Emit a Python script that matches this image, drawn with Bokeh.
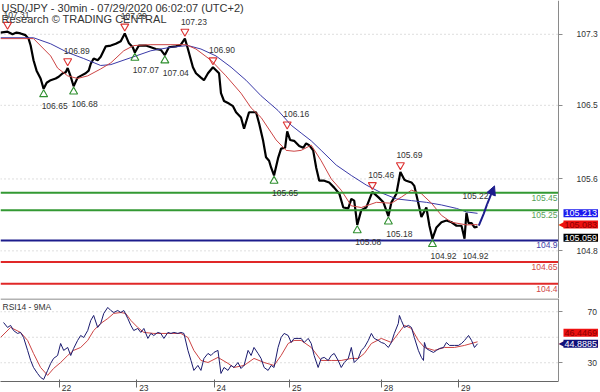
from bokeh.plotting import figure
from bokeh.layouts import column
from bokeh.models import (Range1d, FixedTicker, PrintfTickFormatter, Label, LabelSet,
                          Arrow, NormalHead, ColumnDataSource)
from bokeh.core.properties import value
from bokeh.embed import file_html
from bokeh.resources import INLINE

FONT = "Liberation Sans"

# ---------------- data (x = 30-minute bar index) ----------------
day_ticks = [36.7, 85.0, 133.3, 180.4, 237.5, 285.8]
day_labels = ["22", "23", "24", "25", "28", "29"]

price_t = [0, 4.4, 7.5, 10.0, 12.5, 15.6, 17.5, 18.8, 20.6, 22.5, 25.0, 26.9, 28.8, 31.3, 34.4, 36.3,
           38.8, 40.6, 41.9, 43.8, 45.6, 48.1, 50.0, 53.1, 55.0, 56.3, 58.1, 60.6, 62.5, 65.6, 68.8,
           71.9, 75.0, 77.5, 80.0, 82.5, 83.8, 86.3, 90.6, 93.8, 96.9, 100.0, 102.5, 105.0, 109.4,
           112.5, 115.0, 116.9, 120.0, 121.9, 125.0, 126.9, 129.4, 132.5, 136.3, 137.5, 139.4, 142.5,
           145.0, 146.9, 150.0, 151.9, 155.0, 159.4, 161.3, 163.8, 165.6, 167.5, 168.8, 170.6, 173.1,
           175.0, 177.5, 178.8, 180.6, 183.1, 186.3, 188.8, 190.6, 192.5, 195.0, 196.9, 198.8, 201.9,
           205.0, 208.1, 211.3, 213.8, 216.9, 218.8, 220.6, 222.5, 225.0, 228.1, 231.9, 235.6, 238.8,
           241.9, 243.8, 246.9, 249.4, 251.9, 253.1, 256.3, 258.1, 260.6, 262.5, 265.6, 267.5, 269.4,
           271.9, 275.0, 278.1, 281.3, 284.4, 287.5, 289.4, 290.6, 291.9, 293.8, 295.6, 297.5]
price_p = [107.30, 107.31, 107.28, 107.30, 107.29, 107.27, 107.23, 107.15, 106.98, 106.86, 106.77,
           106.65, 106.72, 106.75, 106.77, 106.79, 106.83, 106.84, 106.89, 106.79, 106.68, 106.78,
           106.80, 106.83, 106.86, 106.94, 107.00, 106.98, 107.02, 107.14, 107.15, 107.17, 107.20,
           107.29, 107.18, 107.13, 107.07, 107.15, 107.15, 107.13, 107.11, 107.10, 107.04, 107.13,
           107.14, 107.16, 107.23, 107.11, 106.90, 106.83, 106.78, 106.75, 106.83, 106.90, 106.83,
           106.60, 106.51, 106.48, 106.45, 106.38, 106.32, 106.19, 106.38, 106.38, 106.25, 106.05,
           105.86, 105.82, 105.74, 105.65, 105.85, 105.96, 105.97, 106.16, 106.06, 106.05, 105.99,
           105.97, 106.02, 106.00, 105.94, 105.74, 105.59, 105.59, 105.57, 105.51, 105.44, 105.28,
           105.27, 105.38, 105.36, 105.08, 105.25, 105.28, 105.46, 105.40, 105.34, 105.18, 105.34,
           105.44, 105.69, 105.60, 105.59, 105.57, 105.53, 105.33, 105.17, 105.28, 105.07, 104.92,
           105.05, 105.11, 105.13, 105.11, 105.07, 105.07, 104.92, 105.22, 105.10, 105.10, 105.05,
           105.059]

ma_red_t = [0, 20.6, 31.3, 35.6, 41.9, 48.1, 54.4, 62.5, 68.8, 76.9, 83.1, 93.8, 106.3, 115.6, 121.9,
            131.3, 140.6, 150.0, 156.3, 162.5, 171.9, 178.1, 183.1, 187.5, 193.8, 200.0, 206.3, 212.5,
            218.8, 225.0, 234.4, 243.8, 250.0, 256.3, 262.5, 268.8, 275.0, 281.3, 290.6, 297.5]
ma_red_p = [107.23, 107.23, 107.03, 106.89, 106.80, 106.77, 106.80, 106.88, 106.95, 107.09, 107.15,
            107.16, 107.16, 107.16, 107.11, 106.98, 106.80, 106.60, 106.43, 106.32, 106.06, 105.94,
            105.93, 105.94, 106.00, 105.82, 105.61, 105.48, 105.30, 105.28, 105.34, 105.33, 105.40,
            105.48, 105.44, 105.33, 105.19, 105.11, 105.08, 105.083]

ma_blue_t = [0, 20.6, 31.3, 41.9, 51.9, 62.5, 68.8, 81.3, 93.8, 106.3, 116.9, 125.0, 134.4, 143.8,
             153.1, 162.5, 173.1, 181.3, 187.5, 193.8, 200.0, 209.4, 218.8, 228.1, 237.5, 246.9,
             256.3, 265.6, 275.0, 284.4, 290.6, 297.5]
ma_blue_p = [107.24, 107.24, 107.17, 107.07, 107.00, 106.92, 106.93, 107.01, 107.09, 107.13, 107.15,
             107.11, 107.03, 106.90, 106.75, 106.57, 106.40, 106.23, 106.14, 106.05, 105.94, 105.77,
             105.65, 105.54, 105.45, 105.38, 105.36, 105.34, 105.31, 105.27, 105.23, 105.213]

rsi_t = [1.9, 4.4, 6.3, 8.1, 10.6, 12.5, 14.4, 16.9, 18.8, 20.6, 23.1, 25.0, 26.9, 29.4, 31.3, 33.1,
         35.6, 37.5, 39.4, 41.9, 43.8, 45.6, 48.1, 50.0, 51.9, 54.4, 56.3, 58.1, 60.6, 62.5, 64.4,
         66.9, 68.8, 70.6, 73.1, 75.0, 76.9, 79.4, 81.3, 83.1, 85.6, 87.5, 89.4, 91.9, 93.8, 95.6,
         98.1, 100.0, 101.9, 104.4, 106.3, 108.1, 110.6, 112.5, 114.4, 116.9, 118.8, 120.6, 123.1,
         125.0, 126.9, 129.4, 131.3, 133.1, 135.6, 137.5, 139.4, 141.9, 143.8, 145.6, 148.1, 150.0,
         151.9, 154.4, 156.3, 158.1, 160.6, 162.5, 164.4, 166.9, 168.8, 170.6, 173.1, 175.0, 176.9,
         179.4, 181.3, 183.1, 185.6, 187.5, 189.4, 191.9, 193.8, 195.6, 198.1, 200.0, 201.9, 204.4,
         206.3, 208.1, 210.6, 212.5, 214.4, 216.9, 218.8, 220.6, 223.1, 225.0, 226.9, 229.4, 231.3,
         233.1, 235.6, 237.5, 239.4, 241.9, 243.8, 245.6, 248.1, 248.8, 250.0, 251.9, 254.4, 256.3,
         258.1, 260.6, 262.5, 263.8, 264.4, 265.6, 267.5, 270.0, 271.9, 273.8, 276.3, 278.1, 280.0,
         283.1, 285.6, 287.5, 289.4, 291.9, 293.8, 295.6, 297.5]
rsi_v = [61.6, 57.7, 59.3, 55.3, 53.0, 53.8, 49.8, 39.7, 31.8, 26.3, 21.6, 18.5, 16.9, 24.0, 29.5,
         33.4, 35.7, 45.1, 39.7, 42.0, 35.7, 41.2, 47.5, 51.4, 49.8, 55.3, 63.2, 67.1, 57.7, 60.8,
         68.7, 73.4, 71.0, 69.4, 71.0, 69.4, 71.0, 64.7, 59.3, 55.3, 56.9, 53.8, 56.9, 49.1, 53.0,
         51.4, 53.8, 53.0, 49.1, 53.8, 53.0, 53.8, 53.0, 53.8, 53.0, 39.7, 31.8, 24.0, 27.9, 24.0,
         33.4, 37.3, 35.7, 38.1, 39.7, 21.6, 26.3, 24.0, 27.9, 26.3, 30.2, 25.5, 27.9, 39.7, 35.7,
         42.0, 37.3, 33.4, 26.3, 24.0, 27.9, 26.3, 42.0, 49.8, 53.0, 51.4, 45.9, 49.1, 49.1, 49.1,
         45.9, 49.1, 45.1, 35.7, 26.3, 33.4, 34.2, 31.8, 35.7, 37.3, 31.8, 26.3, 30.2, 33.4, 42.0,
         30.2, 33.4, 39.7, 42.0, 47.5, 53.0, 49.1, 47.5, 45.9, 45.1, 42.0, 45.9, 53.0, 60.8, 67.1,
         63.2, 57.7, 59.3, 57.7, 49.8, 39.7, 34.2, 31.8, 45.9, 41.2, 39.7, 38.1, 39.7, 41.2, 42.0,
         45.9, 43.6, 43.6, 43.6, 45.1, 47.5, 51.4, 47.5, 42.0, 44.8885]

rsi_ma_t = [0, 6.3, 12.5, 16.9, 20.6, 25.0, 29.4, 33.1, 37.5, 41.9, 45.6, 50.0, 54.4, 58.1, 62.5,
            66.9, 70.6, 75.0, 78.1, 81.3, 85.6, 89.4, 95.6, 104.4, 112.5, 116.9, 120.6, 125.0, 129.4,
            135.6, 141.9, 145.6, 151.9, 158.1, 164.4, 170.6, 175.0, 179.4, 183.1, 187.5, 193.8,
            200.0, 206.3, 212.5, 218.8, 223.1, 226.9, 231.3, 237.5, 243.8, 248.1, 251.9, 256.3,
            260.6, 264.4, 270.6, 276.9, 283.1, 289.4, 297.5]
rsi_ma_v = [49.8, 57.7, 53.8, 47.5, 37.3, 26.3, 20.1, 25.5, 30.2, 35.7, 39.7, 42.0, 47.5, 55.3, 60.8,
            64.7, 68.7, 69.4, 68.7, 63.2, 57.7, 53.8, 53.0, 53.0, 53.0, 49.8, 39.7, 31.8, 30.2, 34.2,
            29.5, 26.3, 27.9, 33.4, 30.2, 27.9, 35.7, 45.1, 47.5, 47.5, 42.0, 31.8, 31.8, 31.8, 33.4,
            33.4, 37.3, 45.1, 49.1, 45.9, 53.0, 59.3, 56.9, 47.5, 42.0, 39.7, 42.0, 42.0, 43.6,
            46.4469]

# pivot highs / lows (with markers) and open pivots (labels only)
high_t = [4.4, 41.9, 77.5, 115.0, 132.5, 178.8, 231.9, 249.4]
high_p = [107.31, 106.89, 107.29, 107.23, 106.90, 106.16, 105.46, 105.69]
low_t = [26.9, 45.6, 83.8, 102.5, 170.6, 222.5, 241.9, 269.4]
low_p = [106.65, 106.68, 107.07, 107.04, 105.65, 105.08, 105.18, 104.92]
open_high_t = [290.6]
open_high_p = [105.22]
open_low_t = [289.4]
open_low_p = [104.92]

# support / resistance levels
levels = [105.45, 105.25, 104.9, 104.65, 104.4]
level_labels = ["105.45", "105.25", "104.9", "104.65", "104.4"]

# projected path (arrow)
arrow_t = [298.3, 301.4, 303.5, 308.1]
arrow_p = [105.07, 105.21, 105.32, 105.53]

price_ticks = [104.78, 105.61, 106.46, 107.28]
rsi_ticks = [30, 70]
rsi_grid = [30, 50, 70]

last_close = 105.059
last_ma_blue = 105.213
last_ma_red = 105.083
last_rsi = 44.8885
last_rsi_ma = 46.4469

title_1 = "USD/JPY - 30min - 07/29/2020 06:02:07 (UTC+2)"
title_2 = "Research \u00a9 TRADING CENTRAL"
rsi_title = "RSI14 - 9MA"

# ---------------- layout / style ----------------
X0, X1, XR = 0, 348, 374.2          # X1 = last slot of the price area, XR = right edge of canvas
PMIN, PMAX = 104.23, 107.67
RMIN, RMAX = 15.3, 80.4
FW, FH_MAIN, FH_RSI = 600, 298, 83
GREEN, GREEN_T = "#339933", "#55a055"
NAVY, NAVY_T = "#1c1c8c", "#3c3caa"
RED, RED_T = "#e02828", "#d04848"
MA_RED, MA_BLUE = "#cc4444", "#3a3aa8"
AXIS = "#8a8a8a"
TXT = "#333333"
GRID = "#bdbdbd"


def style_axis(ax, standoff):
    ax.major_tick_in = 0
    ax.major_tick_out = 4
    ax.minor_tick_line_color = None
    ax.axis_line_color = AXIS
    ax.major_tick_line_color = AXIS
    ax.major_label_standoff = standoff
    ax.major_label_text_font = FONT
    ax.major_label_text_font_size = "8.5px"
    ax.major_label_text_color = TXT


def lab(fig, x, y, text, **kw):
    opts = dict(text_font=FONT, text_font_size="8.5px", text_color=TXT)
    opts.update(kw)
    fig.add_layout(Label(x=x, y=y, text=text, **opts))


# ---------------- main price panel ----------------
p = figure(frame_width=FW, frame_height=FH_MAIN, x_range=Range1d(X0, XR), y_range=Range1d(PMIN, PMAX),
           output_backend="svg", toolbar_location=None, x_axis_location=None, y_axis_location="right",
           min_border_left=0, min_border_right=0, min_border_top=0, min_border_bottom=0,
           outline_line_color=None, background_fill_color="white", border_fill_color="white")
pa = p.yaxis[0]
style_axis(pa, 14)
pa.fixed_location = X1
pa.ticker = FixedTicker(ticks=price_ticks)
pa.formatter = PrintfTickFormatter(format="%.1f")
p.xgrid.visible = False
p.ygrid.visible = False

p.segment(x0=[X0] * len(price_ticks), y0=price_ticks, x1=[X1] * len(price_ticks), y1=price_ticks,
          line_color=GRID, line_dash="1 3", line_width=1)

p.line(price_t, price_p, line_color="black", line_width=2.2)
p.line(ma_blue_t, ma_blue_p, line_color=MA_BLUE, line_width=1)
p.line(ma_red_t, ma_red_p, line_color=MA_RED, line_width=1)

p.segment(x0=[X0] * len(levels), y0=levels, x1=[X1] * len(levels), y1=levels,
          line_color=[GREEN, GREEN, NAVY, RED, RED], line_width=2)
for lv, txt, col in zip(levels, level_labels, [GREEN_T, GREEN_T, NAVY_T, RED_T, RED_T]):
    lab(p, X1, lv, txt, x_offset=-1, y_offset=-2, text_align="right", text_baseline="top",
        text_color=col)

ppu = FH_MAIN / (PMAX - PMIN)
p.scatter(high_t, [v + 7 / ppu for v in high_p], marker="inverted_triangle", size=8,
          fill_color=None, line_color="#dd3333", line_width=1.1)
p.scatter(low_t, [v - 5.5 / ppu for v in low_p], marker="triangle", size=8,
          fill_color=None, line_color="#2f8f2f", line_width=1.1)

hs = ColumnDataSource(dict(t=high_t + open_high_t, p=high_p + open_high_p,
                           s=["%.2f" % v for v in high_p + open_high_p]))
ls = ColumnDataSource(dict(t=low_t + open_low_t, p=low_p + open_low_p,
                           s=["%.2f" % v for v in low_p + open_low_p]))
p.add_layout(LabelSet(x="t", y="p", text="s", source=hs, x_offset=9, y_offset=17,
                      text_align="center", text_baseline="middle", text_font=value(FONT),
                      text_font_size=value("8.5px"), text_color=TXT))
p.add_layout(LabelSet(x="t", y="p", text="s", source=ls, x_offset=11, y_offset=-17.5,
                      text_align="center", text_baseline="middle", text_font=value(FONT),
                      text_font_size=value("8.5px"), text_color=TXT))

p.line(arrow_t[:-1], arrow_p[:-1], line_color=NAVY, line_width=2)
p.add_layout(Arrow(end=NormalHead(size=9, fill_color=NAVY, line_color=NAVY),
                   x_start=arrow_t[-2], y_start=arrow_p[-2], x_end=arrow_t[-1], y_end=arrow_p[-1],
                   line_color=NAVY, line_width=2))

lab(p, X0, PMAX, title_1, x_offset=1, y_offset=-1, text_baseline="top", text_font_size="11px")
lab(p, X0, PMAX, title_2, x_offset=1, y_offset=-12, text_baseline="top", text_font_size="11px")

# value boxes right of the price scale
lab(p, X1, last_ma_blue, "%.3f" % last_ma_blue, x_offset=5, text_baseline="middle",
    text_font_size="9px", text_color="white", background_fill_color="#1a1aee", padding=1)
lab(p, X1, last_ma_red, "\u25c0", x_offset=0, text_baseline="middle", text_font_size="8px",
    text_color="#ee1111", text_font="DejaVu Sans")
lab(p, X1, last_ma_red, "%.3f" % last_ma_red, x_offset=5, text_baseline="middle",
    text_font_size="9px", text_color="#8a0000", background_fill_color="#ee1111", padding=1)
lab(p, X1, last_close, "%.3f" % last_close, x_offset=5, y_offset=-11, text_baseline="middle",
    text_font_size="9px", text_color="white", background_fill_color="black", padding=1)

# ---------------- RSI panel ----------------
r = figure(frame_width=FW, frame_height=FH_RSI, x_range=p.x_range, y_range=Range1d(RMIN, RMAX),
           output_backend="svg", toolbar_location=None, y_axis_location="right",
           min_border_left=0, min_border_right=0, min_border_top=0, min_border_bottom=0,
           outline_line_color=None, background_fill_color="white", border_fill_color="white")
ra = r.yaxis[0]
style_axis(ra, 25)
ra.fixed_location = X1
ra.ticker = FixedTicker(ticks=rsi_ticks)
ra.formatter = PrintfTickFormatter(format="%d")

xa = r.xaxis[0]
xa.bounds = (X0, X1)
xa.ticker = FixedTicker(ticks=day_ticks)
xa.major_label_overrides = {t: "\u00a0" * 6 + d for t, d in zip(day_ticks, day_labels)}
xa.major_label_standoff = -5
xa.major_tick_in = 2
xa.major_tick_out = 6
xa.minor_tick_line_color = None
xa.axis_line_color = "#666666"
xa.major_tick_line_color = "#666666"
xa.major_label_text_font = FONT
xa.major_label_text_font_size = "8.5px"
xa.major_label_text_color = TXT
r.xgrid.visible = False
r.ygrid.visible = False

r.segment(x0=[X0] * len(rsi_grid), y0=rsi_grid, x1=[X1] * len(rsi_grid), y1=rsi_grid,
          line_color=GRID, line_dash="1 3", line_width=1)
r.line(rsi_ma_t, rsi_ma_v, line_color=MA_RED, line_width=1)
r.line(rsi_t, rsi_v, line_color="#1a1a6e", line_width=1)

rpu = FH_RSI / (RMAX - RMIN)
r.segment(x0=[X0], y0=[RMAX - 0.5 / rpu], x1=[X1], y1=[RMAX - 0.5 / rpu],
          line_color="#666666", line_width=1)
lab(r, X0, RMAX, rsi_title, x_offset=2, y_offset=-3, text_baseline="top")

lab(r, X1, last_rsi_ma, "%.4f" % last_rsi_ma, x_offset=5, y_offset=9, text_baseline="middle",
    text_font_size="9px", text_color="#8a0000", background_fill_color="#ee1111", padding=1)
lab(r, X1, last_rsi, "\u25c0", x_offset=0, text_baseline="middle", text_font_size="8px",
    text_color="#10107a", text_font="DejaVu Sans")
lab(r, X1, last_rsi, "%.4f" % last_rsi, x_offset=5, text_baseline="middle",
    text_font_size="9px", text_color="white", background_fill_color="#10107a", padding=1)

layout = column(p, r, spacing=0)
open("out.html", "w").write(file_html(layout, INLINE))
